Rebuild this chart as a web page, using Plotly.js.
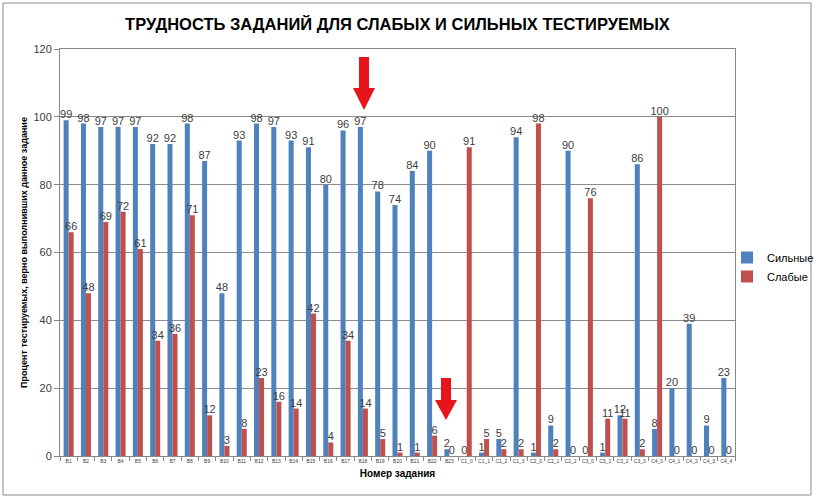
<!DOCTYPE html>
<html>
<head>
<meta charset="utf-8">
<script src="https://cdn.plot.ly/plotly-3.0.1.min.js"></script>
<style>html,body{margin:0;padding:0;background:#fff;} #chart{width:815px;height:499px;}</style>
</head>
<body>
<div id="chart"></div>
<script>
const categories = ["В1","В2","В3","В4","В5","В6","В7","В8","В9","В10","В11","В12","В13","В14","В15","В16","В17","В18","В19","В20","В21","В22","В23",
  "С1_0","С1_1","С1_2","С1_3","С2_0","С2_1","С2_2","С3_0","С3_1","С3_2","С3_3","С4_0","С4_1","С4_2","С4_3","С4_4"];
const strong = [99,98,97,97,97,92,92,98,87,48,93,98,97,93,91,80,96,97,78,74,84,90,2,
  0,1,5,94,1,9,90,0,1,12,86,8,20,39,9,23];
const weak = [66,48,69,72,61,34,36,71,12,3,8,23,16,14,42,4,34,14,5,1,1,6,0,
  91,5,2,2,98,2,0,76,11,11,2,100,0,0,0,0];
const yTicks = [0,20,40,60,80,100,120];

const labelFont = {family: "Liberation Sans, Arial, sans-serif", size: 11, color: "#404040"};

const traces = [
  {type: "bar", name: "Сильные", x: categories, y: strong, marker: {color: "#4F81BD"},
   text: strong.map(String), textposition: "outside", constraintext: "none", cliponaxis: false,
   textfont: labelFont, hoverinfo: "x+y"},
  {type: "bar", name: "Слабые", x: categories, y: weak, marker: {color: "#C0504D"},
   text: weak.map(String), textposition: "outside", constraintext: "none", cliponaxis: false,
   textfont: labelFont, hoverinfo: "x+y"}
];

const L = 60, R = 80, T = 49, B = 43, W = 815, H = 499;
const pw = W - L - R, ph = H - T - B;
const px = v => (v - L) / pw;          // pixel -> paper x
const py = v => (H - B - v) / ph;      // pixel -> paper y

// tip at (0,0), body upwards (pixel y up)
const arrowPath = "M -5 53 L 5 53 L 5 22 L 11 22 L 0 0 L -11 22 L -5 22 Z";
const arrowPath2 = "M -5 42 L 5 42 L 5 20 L 11 20 L 0 0 L -11 20 L -5 20 Z";

const layout = {
  width: W, height: H,
  margin: {l: L, r: R, t: T, b: B, autoexpand: false},
  paper_bgcolor: "#fff", plot_bgcolor: "#fff",
  barmode: "group", bargap: 0.42, bargroupgap: 0,
  showlegend: true,
  title: {text: "<b>ТРУДНОСТЬ ЗАДАНИЙ ДЛЯ СЛАБЫХ И СИЛЬНЫХ ТЕСТИРУЕМЫХ</b>",
    font: {family: "Liberation Sans, Arial, sans-serif", size: 16.5, color: "#000"},
    x: 0.5, xref: "paper", xanchor: "center", y: 1 - 24 / H, yanchor: "middle"},
  xaxis: {
    type: "category", tickfont: {family: "Liberation Sans, Arial", size: 5, color: "#404040"},
    tickangle: 0, ticks: "outside", tickson: "boundaries", ticklen: 4, tickcolor: "#888",
    showline: true, linecolor: "#888", mirror: true, showgrid: false,
    title: {text: "<b>Номер задания</b>", font: {family: "Liberation Sans, Arial", size: 10, color: "#000"}, standoff: 6}
  },
  yaxis: {
    range: [0, 120], tickvals: yTicks, ticktext: yTicks.map(String),
    tickfont: {family: "Liberation Sans, Arial", size: 11, color: "#404040"},
    ticks: "outside", ticklen: 5, tickcolor: "#888",
    showline: true, linecolor: "#888", mirror: true,
    showgrid: true, gridcolor: "#8c8c8c", gridwidth: 1, zeroline: false,
    title: {text: "<b>Процент тестируемых, верно выполнивших данное задание</b>",
      font: {family: "Liberation Sans, Arial", size: 9, color: "#000"}, standoff: 4}
  },
  legend: {xref: "container", yref: "container", x: 727 / W, y: 1 - 267 / H, xanchor: "left", yanchor: "middle",
    font: {family: "Liberation Sans, Arial", size: 11, color: "#000"}, bgcolor: "rgba(0,0,0,0)",
    itemwidth: 30, tracegroupgap: 4},
  shapes: [
    {type: "rect", xref: "paper", yref: "paper", x0: px(3), x1: px(811), y0: py(495), y1: py(3),
     line: {color: "#8a8a8a", width: 1}, fillcolor: "rgba(0,0,0,0)", layer: "below"},
    {type: "path", xref: "paper", yref: "paper", xsizemode: "pixel", ysizemode: "pixel",
     xanchor: px(364), yanchor: py(110), path: arrowPath, fillcolor: "#E8141B", line: {width: 0}},
    {type: "path", xref: "paper", yref: "paper", xsizemode: "pixel", ysizemode: "pixel",
     xanchor: px(446), yanchor: py(420), path: arrowPath2, fillcolor: "#E8141B", line: {width: 0}}
  ]
};

Plotly.newPlot("chart", traces, layout, {displayModeBar: false, staticPlot: true});
</script>
</body>
</html>
